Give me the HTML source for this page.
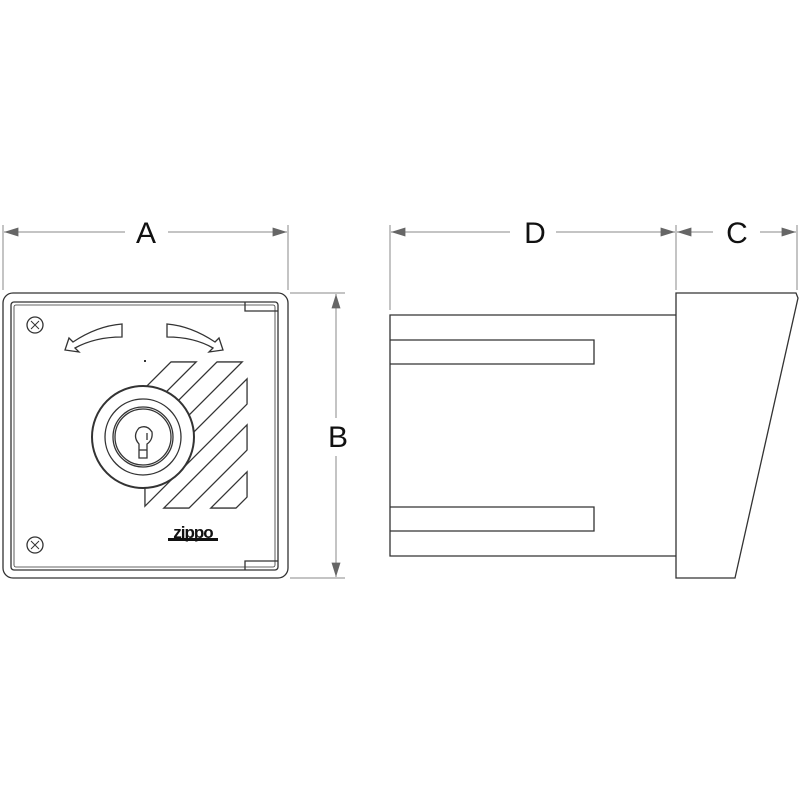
<!DOCTYPE html>
<html><head><style>body{margin:0;background:#fff}svg{display:block}</style></head><body>
<svg width="800" height="800" viewBox="0 0 800 800" xmlns="http://www.w3.org/2000/svg">
<defs>
<marker id="ar" viewBox="0 0 16 10" refX="16" refY="5" markerWidth="16" markerHeight="9" orient="auto-start-reverse" markerUnits="userSpaceOnUse"><path d="M0,0L16,5L0,10z" fill="#666"/></marker>
<clipPath id="c1"><rect x="144.3" y="361.3" width="103.4" height="147.4"/></clipPath>
<clipPath id="c2"><rect x="145.6" y="362.6" width="100.8" height="144.8"/></clipPath>
</defs>
<g stroke="#888" stroke-width="1" fill="none">
<line x1="3" y1="225" x2="3" y2="290"/><line x1="288" y1="225" x2="288" y2="290"/>
<line x1="4" y1="232" x2="125" y2="232" marker-start="url(#ar)"/><line x1="168" y1="232" x2="287" y2="232" marker-end="url(#ar)"/>
<line x1="290" y1="293" x2="345" y2="293"/><line x1="290" y1="578" x2="345" y2="578"/>
<line x1="336" y1="294" x2="336" y2="418" marker-start="url(#ar)"/><line x1="336" y1="456" x2="336" y2="577" marker-end="url(#ar)"/>
<line x1="390" y1="225" x2="390" y2="310"/><line x1="676" y1="225" x2="676" y2="290"/><line x1="797" y1="225" x2="797" y2="290"/>
<line x1="391" y1="232" x2="510" y2="232" marker-start="url(#ar)"/><line x1="556" y1="232" x2="675" y2="232" marker-end="url(#ar)"/>
<line x1="677" y1="232" x2="713" y2="232" marker-start="url(#ar)"/><line x1="760" y1="232" x2="796" y2="232" marker-end="url(#ar)"/>
</g>
<g font-family="Liberation Sans, sans-serif" font-size="30" fill="#111" text-anchor="middle">
<text x="146" y="243">A</text><text x="338" y="447">B</text><text x="535" y="243">D</text><text x="737" y="243">C</text>
</g>
<!-- stripes -->
<g clip-path="url(#c1)" fill="#333">
<polygon points="232,300 259,300 -41,600 -68,600"/>
<polygon points="278,300 305,300 5,600 -22,600"/>
<polygon points="325,300 352,300 52,600 25,600"/>
<polygon points="371,300 398,300 98,600 71,600"/>
<polygon points="418,300 445,300 145,600 118,600"/>
</g>
<g clip-path="url(#c2)" fill="#fff">
<polygon points="233.8,300 257.2,300 -42.8,600 -66.2,600"/>
<polygon points="279.8,300 303.2,300 3.2,600 -20.2,600"/>
<polygon points="326.8,300 350.2,300 50.2,600 26.8,600"/>
<polygon points="372.8,300 396.2,300 96.2,600 72.8,600"/>
<polygon points="419.8,300 443.2,300 143.2,600 119.8,600"/>
</g>
<g stroke="#333" stroke-width="1.3" fill="none">
<rect x="3" y="293" width="285" height="285" rx="10"/>
<rect x="11" y="302" width="267" height="268" rx="3"/>
<rect x="14" y="305" width="261" height="262" rx="2" stroke-width="0.8"/>
<path d="M245,302V311H278M245,570V561H278"/>
<circle cx="35" cy="325" r="8"/><circle cx="35" cy="545" r="8"/>
<path d="M31,321l8,8M39,321l-8,8M31,541l8,8M39,541l-8,8" stroke-width="1"/>
<path d="M122,324V337Q95,337 75,348L79,352L65,350L69,338L73,342Q97,326 122,324z"/>
<path d="M167,324V337Q194,337 213,348L209,352L223,350L219,338L215,342Q191,326 167,324z"/>
<circle cx="143" cy="437" r="51" stroke-width="2" fill="#fff"/>
<circle cx="143" cy="437" r="38"/>
<circle cx="143" cy="437" r="30"/>
<circle cx="143" cy="437" r="28"/>
<path d="M139,444Q132,436 139,428Q147,424 152,432Q153,440 147,444V458H139Z"/>
<line x1="139" y1="450" x2="147" y2="450"/>
<line x1="147" y1="433" x2="147" y2="440"/>
</g>
<rect x="144" y="360" width="2" height="2" fill="#333"/>
<text x="193" y="538" font-family="Liberation Sans, sans-serif" font-weight="bold" font-size="17" fill="#111" text-anchor="middle" letter-spacing="-1">zippo</text>
<rect x="168" y="538" width="50" height="3" fill="#111"/>
<g stroke="#333" stroke-width="1.3" fill="none">
<path d="M676,315H390V556H676"/>
<path d="M390,340H594V364H390M390,507H594V531H390"/>
<path d="M676,293H796L798,298L735,578H676Z"/>
</g>
</svg>
</body></html>
